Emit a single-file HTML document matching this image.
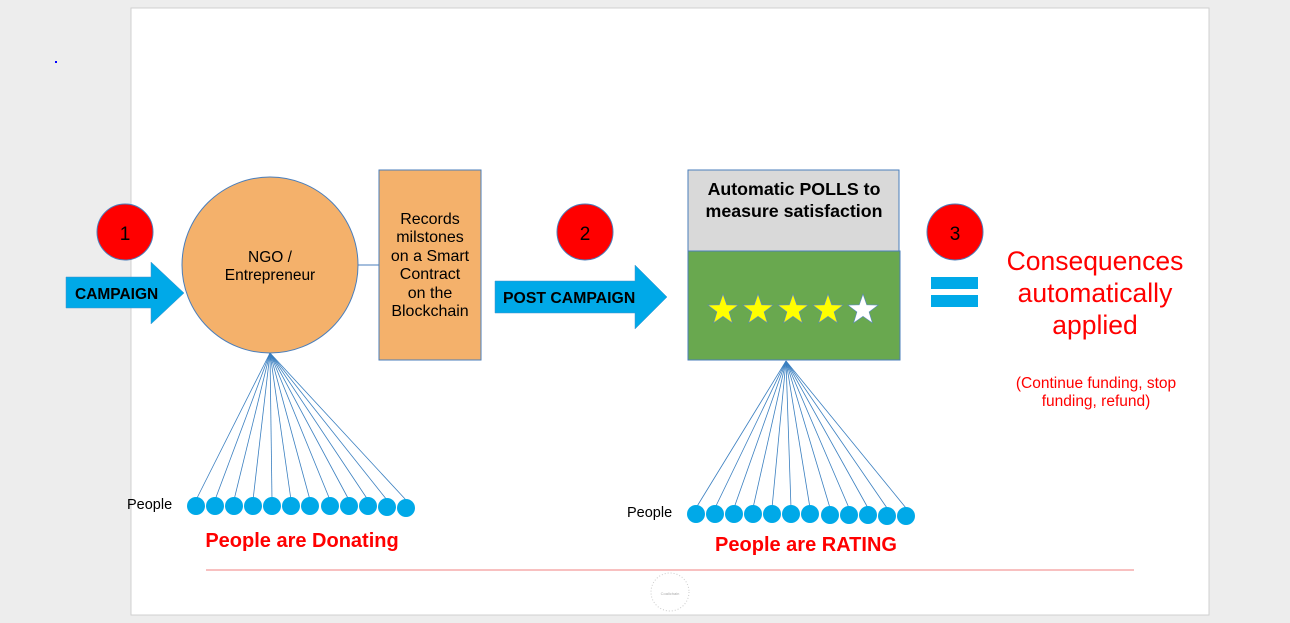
<!DOCTYPE html>
<html><head><meta charset="utf-8"><style>
html,body{margin:0;padding:0;background:#ededed;}
svg{display:block;font-family:"Liberation Sans",Arial,sans-serif;}
</style></head><body>
<svg width="1290" height="623" viewBox="0 0 1290 623" xmlns="http://www.w3.org/2000/svg">
<defs>
<path id="st" d="M0,-16 L3.76,-5.18 L15.22,-4.94 L6.09,1.98 L9.4,12.94 L0,6.4 L-9.4,12.94 L-6.09,1.98 L-15.22,-4.94 L-3.76,-5.18 Z"/>
</defs>
<rect x="0" y="0" width="1290" height="623" fill="#ededed"/>
<rect x="131" y="8" width="1078" height="607" fill="#fff" stroke="#d0d0d0"/>
<rect x="55" y="61" width="2" height="2" fill="#00f"/>

<!-- step 1 -->
<circle cx="125" cy="232" r="28" fill="#f00" stroke="#4a7ebb"/>
<text x="125" y="240" font-size="19" text-anchor="middle" fill="#000">1</text>
<polygon points="66,277 151,277 151,262 184,293 151,324 151,308 66,308" fill="#00a9e8" stroke="#4a90c8" stroke-width="0.5"/>
<text x="75" y="299" font-size="15.5" font-weight="bold" fill="#000">CAMPAIGN</text>

<circle cx="270" cy="265" r="88" fill="#f4b16b" stroke="#4a7ebb" stroke-width="1"/>
<text x="270" y="262" font-size="15.5" text-anchor="middle">NGO /</text>
<text x="270" y="280" font-size="15.5" text-anchor="middle">Entrepreneur</text>
<line x1="358" y1="265" x2="379" y2="265" stroke="#4a7ebb"/>
<rect x="379" y="170" width="102" height="190" fill="#f4b16b" stroke="#4a7ebb"/>
<g font-size="16" text-anchor="middle">
<text x="430" y="224">Records</text>
<text x="430" y="242">milstones</text>
<text x="430" y="261">on a Smart</text>
<text x="430" y="279">Contract</text>
<text x="430" y="298">on the</text>
<text x="430" y="316">Blockchain</text>
</g>

<!-- step 2 -->
<circle cx="585" cy="232" r="28" fill="#f00" stroke="#4a7ebb"/>
<text x="585" y="240" font-size="19" text-anchor="middle">2</text>
<polygon points="495,281 635,281 635,265 667,297 635,329 635,313 495,313" fill="#00a9e8" stroke="#4a90c8" stroke-width="0.5"/>
<text x="503" y="303" font-size="15.8" font-weight="bold">POST CAMPAIGN</text>

<rect x="688" y="170" width="211" height="81" fill="#d9d9d9" stroke="#4a7ebb"/>
<text x="794" y="195" font-size="17.8" font-weight="bold" text-anchor="middle">Automatic POLLS to</text>
<text x="794" y="217" font-size="17.8" font-weight="bold" text-anchor="middle">measure satisfaction</text>
<rect x="688" y="251" width="212" height="109" fill="#69a84f" stroke="#4a7ebb"/>
<g stroke="#5a8ac0" stroke-width="0.6">
<use href="#st" x="723" y="310" fill="#ffff00"/>
<use href="#st" x="758" y="310" fill="#ffff00"/>
<use href="#st" x="793" y="310" fill="#ffff00"/>
<use href="#st" x="828" y="310" fill="#ffff00"/>
<use href="#st" x="863" y="310" fill="#ffffff"/>
</g>

<!-- step 3 -->
<circle cx="955" cy="232" r="28" fill="#f00" stroke="#4a7ebb"/>
<text x="955" y="240" font-size="19" text-anchor="middle">3</text>
<rect x="931" y="277" width="47" height="12" fill="#00a9e8"/>
<rect x="931" y="295" width="47" height="12" fill="#00a9e8"/>
<g fill="#f00" text-anchor="middle">
<text x="1095" y="270" font-size="26.5">Consequences</text>
<text x="1095" y="302" font-size="26.5">automatically</text>
<text x="1095" y="334" font-size="26.5">applied</text>
<text x="1096" y="388" font-size="15.5">(Continue funding, stop</text>
<text x="1096" y="406" font-size="15.5">funding, refund)</text>
</g>

<!-- people 1 -->
<g stroke="#3a7fc0" stroke-width="0.8">
<line x1="270" y1="353" x2="196" y2="500"/><line x1="270" y1="353" x2="215" y2="500"/>
<line x1="270" y1="353" x2="234" y2="500"/><line x1="270" y1="353" x2="253" y2="500"/>
<line x1="270" y1="353" x2="272" y2="500"/><line x1="270" y1="353" x2="291" y2="500"/>
<line x1="270" y1="353" x2="310" y2="500"/><line x1="270" y1="353" x2="330" y2="500"/>
<line x1="270" y1="353" x2="349" y2="500"/><line x1="270" y1="353" x2="368" y2="500"/>
<line x1="270" y1="353" x2="387" y2="500"/><line x1="270" y1="353" x2="406" y2="500"/>
</g>
<g fill="#00a9e8">
<circle cx="196" cy="506" r="9"/><circle cx="215" cy="506" r="9"/><circle cx="234" cy="506" r="9"/>
<circle cx="253" cy="506" r="9"/><circle cx="272" cy="506" r="9"/><circle cx="291" cy="506" r="9"/>
<circle cx="310" cy="506" r="9"/><circle cx="330" cy="506" r="9"/><circle cx="349" cy="506" r="9"/>
<circle cx="368" cy="506" r="9"/><circle cx="387" cy="507" r="9"/><circle cx="406" cy="508" r="9"/>
</g>
<text x="127" y="509" font-size="14.5">People</text>
<text x="302" y="547" font-size="20" font-weight="bold" fill="#f00" text-anchor="middle">People are Donating</text>

<!-- people 2 -->
<g stroke="#3a7fc0" stroke-width="0.8">
<line x1="786" y1="361" x2="696" y2="508"/><line x1="786" y1="361" x2="715" y2="508"/>
<line x1="786" y1="361" x2="734" y2="508"/><line x1="786" y1="361" x2="753" y2="508"/>
<line x1="786" y1="361" x2="772" y2="508"/><line x1="786" y1="361" x2="791" y2="508"/>
<line x1="786" y1="361" x2="810" y2="508"/><line x1="786" y1="361" x2="830" y2="508"/>
<line x1="786" y1="361" x2="849" y2="508"/><line x1="786" y1="361" x2="868" y2="508"/>
<line x1="786" y1="361" x2="887" y2="508"/><line x1="786" y1="361" x2="906" y2="508"/>
</g>
<g fill="#00a9e8">
<circle cx="696" cy="514" r="9"/><circle cx="715" cy="514" r="9"/><circle cx="734" cy="514" r="9"/>
<circle cx="753" cy="514" r="9"/><circle cx="772" cy="514" r="9"/><circle cx="791" cy="514" r="9"/>
<circle cx="810" cy="514" r="9"/><circle cx="830" cy="515" r="9"/><circle cx="849" cy="515" r="9"/>
<circle cx="868" cy="515" r="9"/><circle cx="887" cy="516" r="9"/><circle cx="906" cy="516" r="9"/>
</g>
<text x="627" y="517" font-size="14.5">People</text>
<text x="806" y="551" font-size="20" font-weight="bold" fill="#f00" text-anchor="middle">People are RATING</text>

<line x1="206" y1="570" x2="1134" y2="570" stroke="#f08080" stroke-width="1"/>
<circle cx="670" cy="592" r="19" fill="none" stroke="#ccc" stroke-dasharray="1,2"/>
<text x="670" y="595" font-size="4" fill="#aaa" text-anchor="middle">Coalichain</text>
</svg>
</body></html>
